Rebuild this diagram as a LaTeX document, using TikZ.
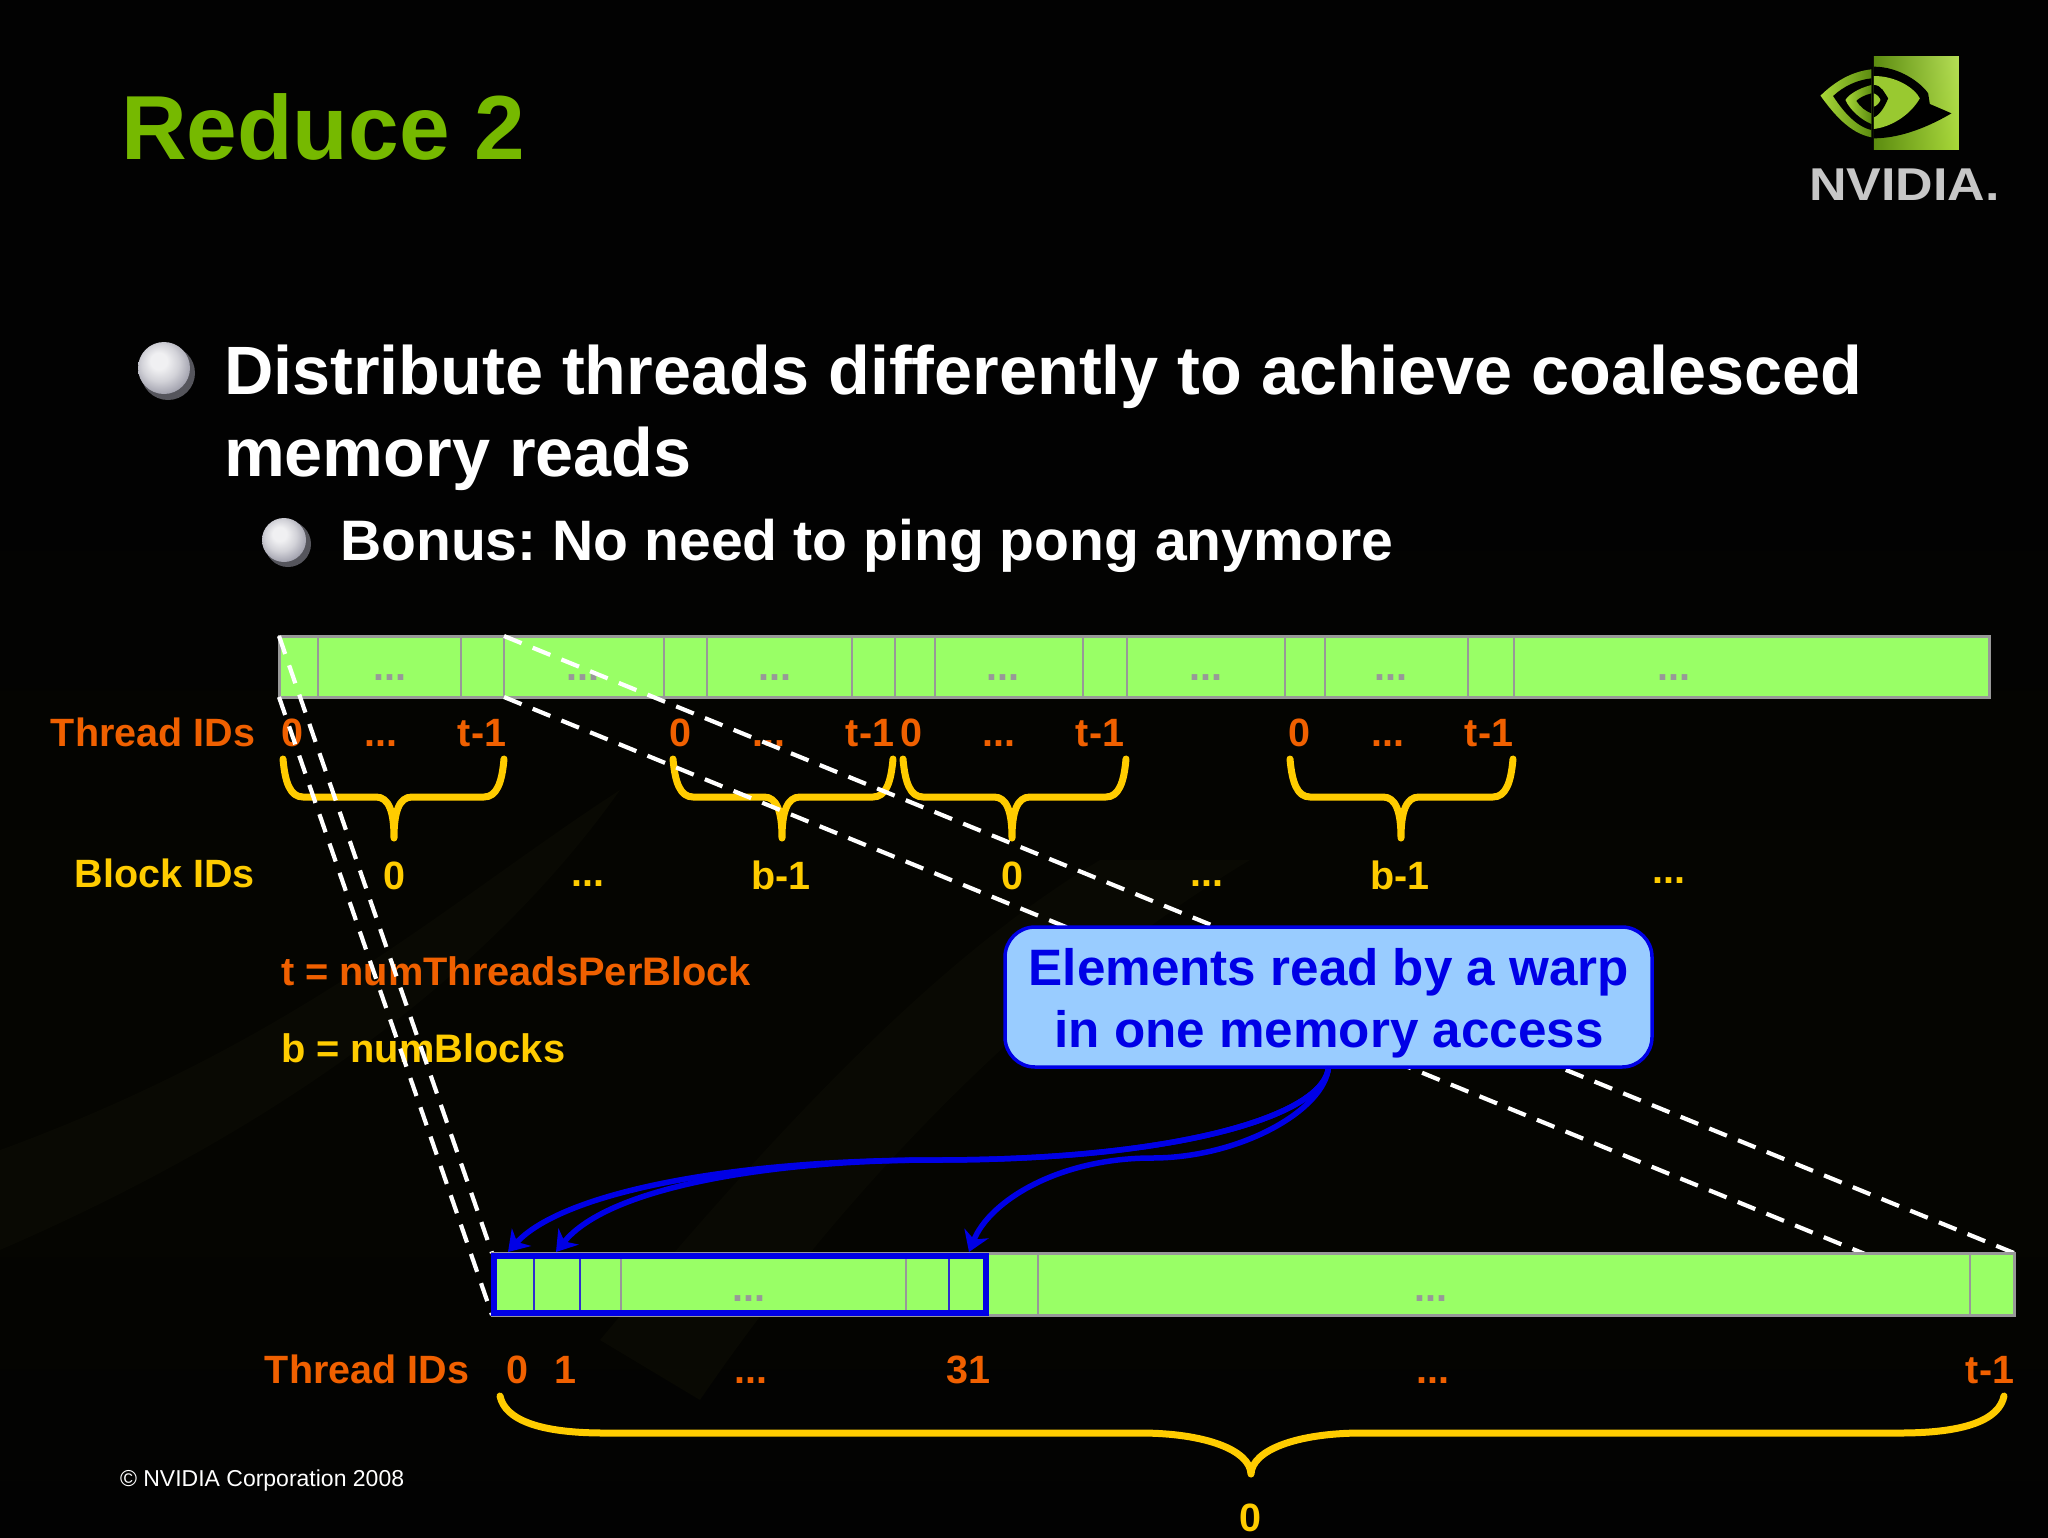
\documentclass[tikz,border=0pt]{standalone}
\usepackage{fontspec}
\setmainfont{Liberation Sans}
\usetikzlibrary{arrows.meta,shadings,calc}
\definecolor{nvgreen}{HTML}{76B900}
\definecolor{orng}{HTML}{F06000}
\definecolor{yell}{HTML}{FFCC00}
\definecolor{cell}{HTML}{99FF66}
\definecolor{cellline}{HTML}{989898}
\definecolor{callfill}{HTML}{99CCFF}
\definecolor{wblue}{HTML}{0000E6}
\definecolor{bgtop}{HTML}{020202}
\definecolor{bglow}{HTML}{050501}
\definecolor{bgband}{HTML}{090903}
\definecolor{logodark}{HTML}{5C8C10}
\definecolor{logolite}{HTML}{A8D838}
\definecolor{shadowc}{HTML}{55555C}
\definecolor{pearlA}{HTML}{F0F0F2}
\definecolor{pearlB}{HTML}{D2D2D8}
\definecolor{pearlC}{HTML}{A4A4B0}
\definecolor{pearlD}{HTML}{78787F}
\pgfdeclareradialshading{pearl}{\pgfpoint{-6bp}{8bp}}{color(0bp)=(pearlA); color(8bp)=(pearlA); color(18bp)=(pearlB); color(28bp)=(pearlC); color(40bp)=(pearlD); color(50bp)=(pearlD)}
\tikzset{
  txt/.style={inner sep=0pt,outer sep=0pt,font=\bfseries\fontsize{39.5}{39.5}\selectfont},
  oid/.style={txt,text=orng,anchor=base},
  bid/.style={txt,text=yell,anchor=base},
  cdots/.style={txt,text=cellline,anchor=base},
  bar/.style={draw=cellline,fill=cell,line width=3pt,inner sep=0pt,outer sep=0pt,anchor=north west},
  divl/.style={draw=cellline,line width=2.5pt},
  divb/.style={draw=wblue!70!cellline,line width=2.5pt},
  bracel/.style={draw=yell,line width=7pt,line cap=round,line join=round},
  dashl/.style={draw=white,line width=4.2pt,dash pattern=on 19pt off 12pt},
  warp/.style={draw=wblue,line width=5.5pt,-{Stealth[length=20pt,width=26pt]}},
}
\newcommand{\smallbrace}[3]{%
  \pgfmathsetmacro{\ba}{#1+2}\pgfmathsetmacro{\bb}{#1+7}\pgfmathsetmacro{\bc}{#1+20}%
  \pgfmathsetmacro{\bd}{#3-18}\pgfmathsetmacro{\be}{#3-5}\pgfmathsetmacro{\bf}{#3+5}\pgfmathsetmacro{\bg}{#3+18}%
  \pgfmathsetmacro{\bh}{#2-20}\pgfmathsetmacro{\bi}{#2-7}\pgfmathsetmacro{\bj}{#2-2}%
  \draw[bracel] (#1,759) .. controls (\ba,782) and (\bb,797) .. (\bc,797) -- (\bd,797)
    .. controls (\be,797) and (#3,812) .. (#3,838) .. controls (#3,812) and (\bf,797) .. (\bg,797)
    -- (\bh,797) .. controls (\bi,797) and (\bj,782) .. (#2,759);}
\frenchspacing
\begin{document}
\begin{tikzpicture}[x=1pt,y=-1pt]
\useasboundingbox (0,0) rectangle (2048,1537);
% background
\fill[bgtop] (0,0) rectangle (2048,1537);
\shade[top color=bgtop,bottom color=bglow] (0,480) rectangle (2048,900);
\fill[bglow] (0,900) rectangle (2048,1200);
\shade[top color=bglow,bottom color=bgtop] (0,1200) rectangle (2048,1537);
\fill[bgband] (0,1150) .. controls (300,1040) and (450,900) .. (620,790) .. controls (500,960) and (300,1120) .. (0,1250) -- cycle;
\fill[bgband] (600,1340) .. controls (800,1100) and (950,950) .. (1100,860) -- (1250,860) .. controls (1050,980) and (850,1180) .. (700,1400) -- cycle;
% title
\node[txt,anchor=base west,text=nvgreen,font=\bfseries\fontsize{91}{91}\selectfont] (title) at (121,159) {Reduce 2};
% logo
\begin{scope}[x=0.3333pt,y=-0.3333pt,shift={(5250,90)}]
  \shade[lower left=logodark,lower right=logolite,upper left=logodark,upper right=logolite!85!white] (372,80) rectangle (627,358);
  \shade[left color=logolite,right color=logodark] (365,118) .. controls (300,125) and (250,160) .. (212,197) .. controls (250,250) and (300,310) .. (365,322) -- cycle;
  \fill[black] (365,145) .. controls (320,150) and (280,170) .. (250,198) .. controls (280,245) and (320,290) .. (365,300) -- cycle;
  \shade[left color=logolite,right color=logodark] (365,165) .. controls (325,175) and (295,195) .. (287,210) .. controls (300,240) and (335,270) .. (365,282) -- cycle;
  \fill[black] (365,190) .. controls (345,195) and (325,205) .. (320,213) .. controls (330,230) and (350,245) .. (365,250) -- cycle;
  \fill[black] (372,110) .. controls (450,110) and (515,160) .. (535,190) -- (540,222) -- (605,250) .. controls (520,300) and (440,325) .. (372,325) -- cycle;
  \fill[logolite!80!logodark] (372,138) .. controls (440,138) and (495,175) .. (510,205) .. controls (485,250) and (430,290) .. (372,297) -- cycle;
  \fill[black] (372,165) .. controls (395,165) and (405,190) .. (415,205) .. controls (405,230) and (390,255) .. (372,262) -- cycle;
  \fill[logolite!80!logodark] (372,190) .. controls (385,195) and (390,205) .. (392,210) .. controls (388,220) and (380,228) .. (372,230) -- cycle;
\end{scope}
\node[txt,anchor=base west,text=black!22!white,font=\bfseries\fontsize{46}{46}\selectfont,xscale=1.13,transform shape] (logotext) at (1809,200) {NVIDIA.};
% bullets
\fill[shadowc] (168,373) circle (27);
\shade[shading=pearl] (164,368) circle (26);
\fill[shadowc] (288,544) circle (23);
\shade[shading=pearl] (284,540) circle (22);
\node[txt,anchor=base west,text=white,font=\bfseries\fontsize{68.4}{68.4}\selectfont] (b1a) at (224,394) {Distribute threads differently to achieve coalesced};
\node[txt,anchor=base west,text=white,font=\bfseries\fontsize{68.4}{68.4}\selectfont] (b1b) at (224,476) {memory reads};
\node[txt,anchor=base west,text=white,font=\bfseries\fontsize{57.1}{57.1}\selectfont] (b2) at (340,560) {Bonus: No need to ping pong anymore};
% top bar
\node[bar,minimum width=1710pt,minimum height=61pt] (topbar) at (279,636) {};
\foreach \x in {318,461,664,707,852,895,935,1083,1127,1285,1325,1468,1514} \draw[divl] (\x,636) -- (\x,697);
\coordinate (tt) at (504,636); \coordinate (tb) at (504,697);
\draw[divl] (tt) -- (tb);
\foreach \x/\n in {390/a,583/b,775/c,1003/d,1206/e,1391/f,1674/g} \node[cdots] (td\n) at (\x,680) {...};
% labels
\node[txt,anchor=base east,text=orng] (tidl) at (255,746) {Thread IDs};
\node[oid] (o0) at (292,746) {0};
\node[oid] (o1) at (381,746) {...};
\node[oid] (o2) at (482,746) {t-1};
\node[oid] (o3) at (680,746) {0};
\node[oid] (o4) at (769,746) {...};
\node[oid] (o5) at (870,746) {t-1};
\node[oid] (o6) at (911,746) {0};
\node[oid] (o7) at (999,746) {...};
\node[oid] (o8) at (1100,746) {t-1};
\node[oid] (o9) at (1299,746) {0};
\node[oid] (o10) at (1388,746) {...};
\node[oid] (o11) at (1489,746) {t-1};
\smallbrace{283}{504}{394}
\smallbrace{673}{893}{782}
\smallbrace{903}{1126}{1012}
\smallbrace{1290}{1513}{1401}
\node[txt,anchor=base east,text=yell] (bidl) at (255,887) {Block IDs};
\node[bid] (y0) at (394,889) {0};
\node[bid] (y1) at (588,886) {...};
\node[bid] (y2) at (781,889) {b-1};
\node[bid] (y3) at (1012,889) {0};
\node[bid] (y4) at (1207,886) {...};
\node[bid] (y5) at (1400,889) {b-1};
\node[bid] (y6) at (1669,883) {...};
\node[txt,anchor=base west,text=orng,font=\bfseries\fontsize{39.8}{39.8}\selectfont] (deft) at (281,985) {t = numThreadsPerBlock};
\node[txt,anchor=base west,text=yell,font=\bfseries\fontsize{39.8}{39.8}\selectfont] (defb) at (281,1062) {b = numBlocks};
% dashed lines
\coordinate (bbl) at (492,1253);
\node[bar,minimum width=1522pt,minimum height=62pt] (botbar) at (bbl) {};
\draw[dashl] (topbar.north west) -- (botbar.north west);
\draw[dashl] (topbar.south west) -- (botbar.south west);
\draw[dashl] (tt) -- (botbar.north east);
\draw[dashl] (tb) -- (botbar.south east);
% bottom bar on top
\node[bar,minimum width=1522pt,minimum height=62pt] (botbar2) at (bbl) {};
\foreach \x in {621,906,1038,1970} \draw[divl] (\x,1253) -- (\x,1315);
\foreach \x in {534,580,949} \draw[divb] (\x,1253) -- (\x,1315);
\node[draw=wblue,line width=6pt,inner sep=0pt,outer sep=0pt,anchor=north west,minimum width=492pt,minimum height=57pt] (warpbox) at (494,1256) {};
\node[cdots] (bd1) at (749,1301) {...};
\node[cdots] (bd2) at (1431,1301) {...};
\node[txt,anchor=base east,text=orng] (tidb) at (469,1383) {Thread IDs};
\node[oid] (p0) at (517,1383) {0};
\node[oid] (p1) at (565,1383) {1};
\node[oid] (p2) at (751,1383) {...};
\node[oid] (p3) at (968,1383) {31};
\node[oid] (p4) at (1433,1383) {...};
\node[oid] (p5) at (1990,1383) {t-1};
\draw[bracel] (500,1396) .. controls (505,1420) and (540,1433) .. (604,1433) -- (1140,1433)
  .. controls (1205,1433) and (1250,1450) .. (1251,1474) .. controls (1252,1450) and (1297,1433) .. (1362,1433)
  -- (1900,1433) .. controls (1965,1433) and (1999,1420) .. (2004,1396);
\node[bid] (y7) at (1250,1531) {0};
\node[txt,anchor=base west,text=white,font=\fontsize{23}{23}\selectfont] (copy) at (120,1486) {© NVIDIA Corporation 2008};
% callout
\node[draw=wblue,fill=callfill,line width=3.5pt,rounded corners=30pt,minimum width=647pt,minimum height=140pt,inner sep=0pt,outer sep=0pt] (call) at (1328.5,997) {};
\node[txt,anchor=base,text=wblue,font=\bfseries\fontsize{51.2}{51.2}\selectfont] (c1) at (1329,985) {Elements read by a warp};
\node[txt,anchor=base,text=wblue,font=\bfseries\fontsize{51.2}{51.2}\selectfont] (c2) at (1329,1047) {in one memory access};
% arrows
\coordinate (a0) at (508,1252);
\coordinate (a1) at (556,1252);
\coordinate (a31) at (969,1252);
\draw[warp] (call.south) .. controls (1325,1115) and (1180,1160) .. (935,1160) .. controls (720,1160) and (560,1195) .. (a0);
\draw[warp] (call.south) .. controls (1325,1115) and (1180,1160) .. (935,1160) .. controls (780,1160) and (610,1185) .. (a1);
\draw[warp] (call.south) .. controls (1325,1110) and (1240,1158) .. (1152,1158) .. controls (1060,1158) and (990,1200) .. (a31);
\end{tikzpicture}
\end{document}
